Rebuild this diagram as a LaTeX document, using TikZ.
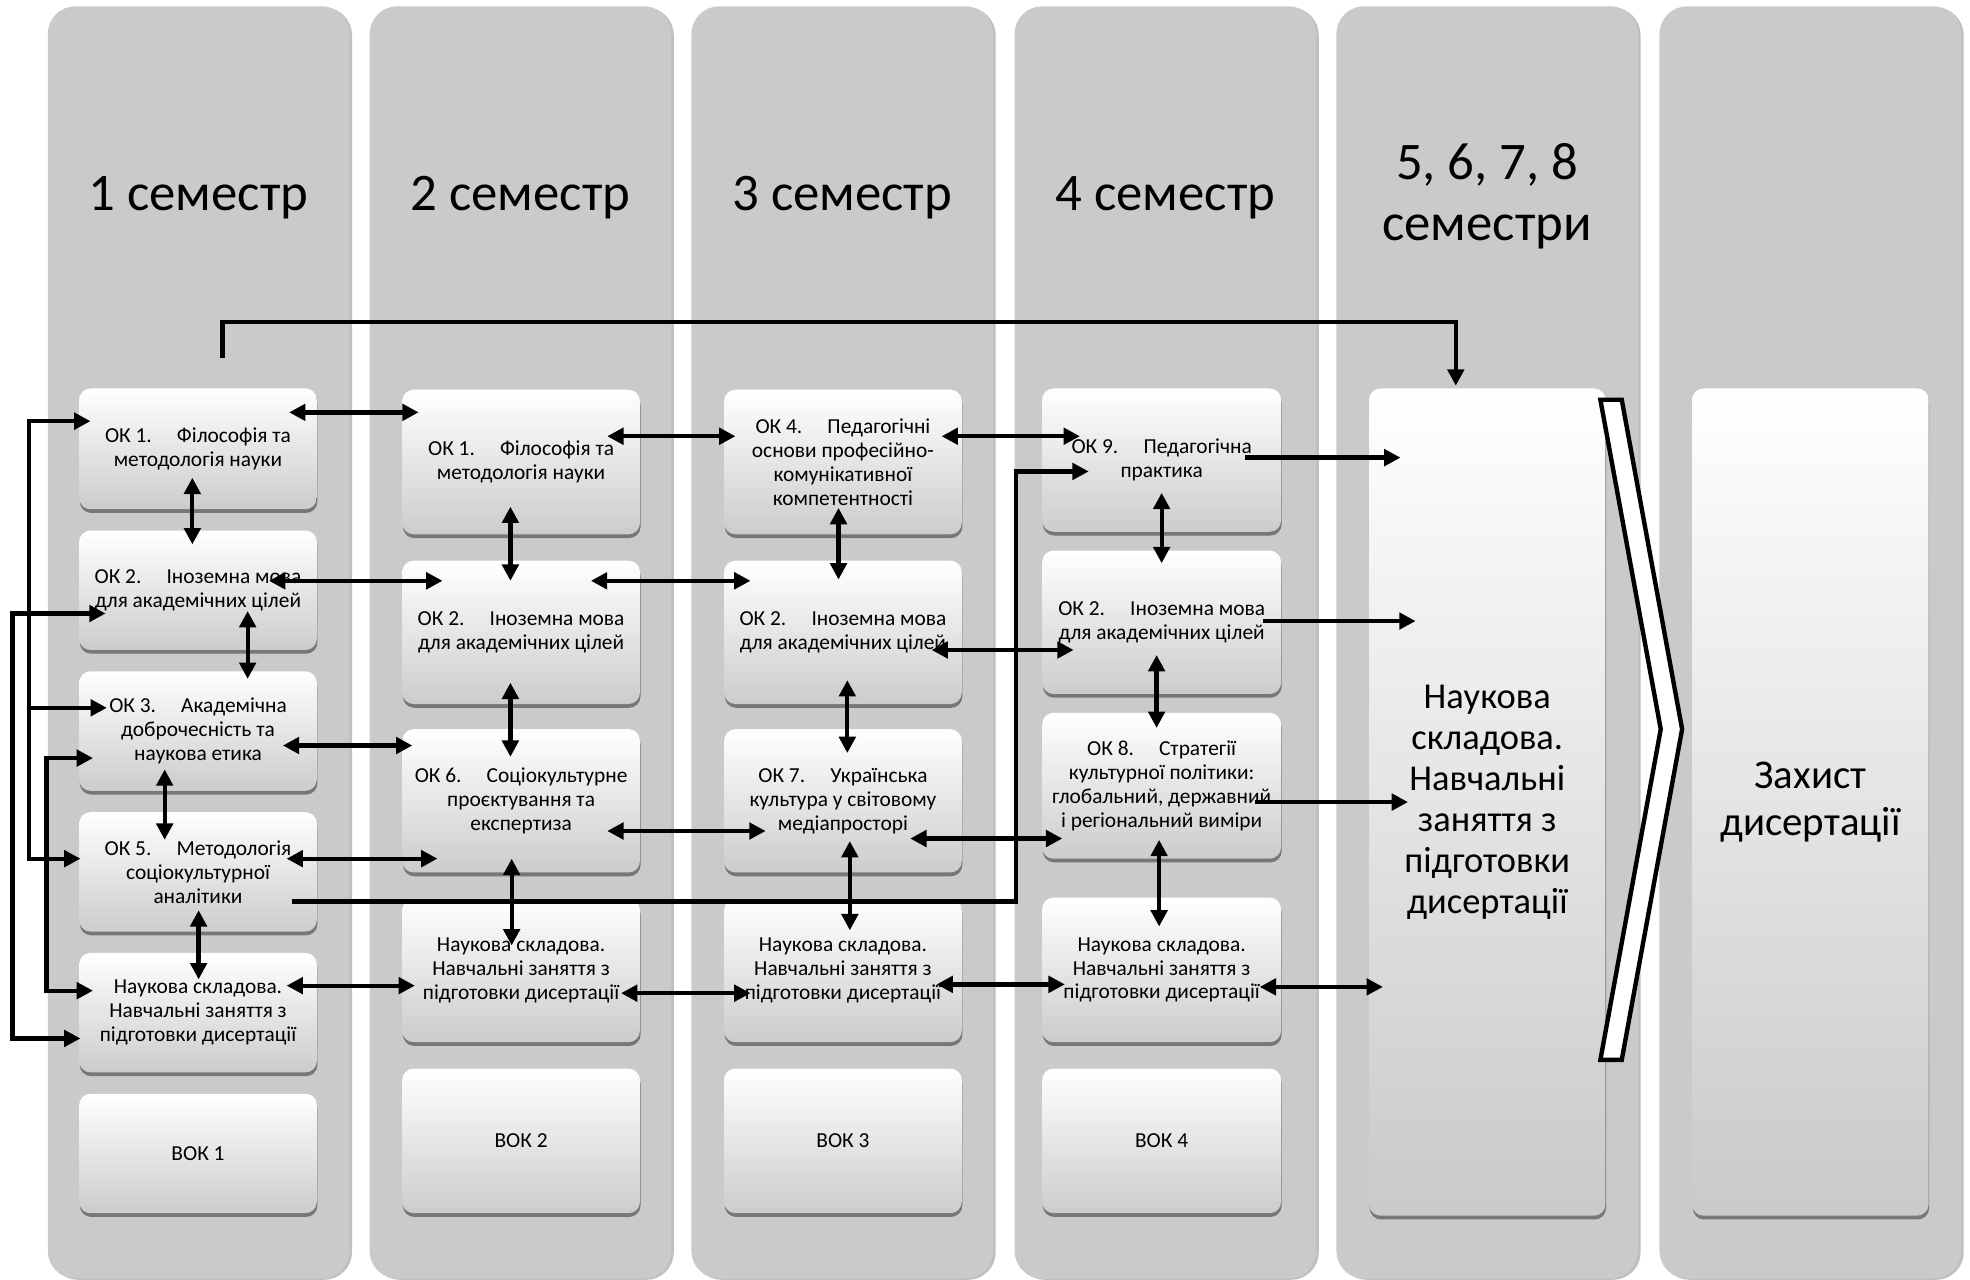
\documentclass[tikz,border=0pt]{standalone}
\usepackage{fontspec}
\setmainfont{Carlito}
\usetikzlibrary{arrows.meta,shadows,calc}
\definecolor{panelgray}{RGB}{202,202,202}
\tikzset{
  x=1pt, y=-1pt,
  panel/.style={fill=panelgray, rounded corners=22pt, draw=none,
    drop shadow={shadow xshift=2pt, shadow yshift=-1pt, opacity=0.25, fill=black}},
  box/.style={rounded corners=9pt, top color=white, bottom color=black!20, draw=none,
    drop shadow={shadow xshift=0.5pt, shadow yshift=-3pt, opacity=0.6, fill=black!75},
    align=center, font=\fontsize{17}{19}\selectfont, inner sep=2pt, text=black},
  bigbox/.style={box, top color=white, middle color=white, bottom color=black!21,
    font=\fontsize{29}{32.6}\selectfont},
  hdr/.style={align=center, font=\fontsize{42}{48}\selectfont, text=black},
  conn/.style={line width=3.4pt, -{Triangle[length=13pt,width=13pt]}},
  dconn/.style={line width=3.4pt, {Triangle[length=13pt,width=13pt]}-{Triangle[length=13pt,width=13pt]}},
}
\newcommand\sembox[6]{%
  \node[box, minimum width={(#4-#2)*1pt}, minimum height={(#5-#3)*1pt}]
    (#1) at ({(#2+#4)/2},{(#3+#5)/2}) {#6};}
\newcommand\biarrow[5]{%
  \coordinate (#1a) at (#2,#3); \coordinate (#1b) at (#4,#5);
  \draw[dconn] (#1a) -- (#1b);}
\newcommand\uniarrow[5]{%
  \coordinate (#1a) at (#2,#3); \coordinate (#1b) at (#4,#5);
  \draw[conn] (#1a) -- (#1b);}
\newcommand\okgap{\hspace{20pt}}
\newcommand\nauk{Наукова складова.\\Навчальні заняття з\\підготовки дисертації}
\newcommand\inoz{ОК 2.\okgap Іноземна мова\\для академічних цілей}
\begin{document}
\begin{tikzpicture}
\useasboundingbox (0,0) rectangle (1567,1018);
\fill[white] (0,0) rectangle (1567,1018);

% panels
\foreach \px in {38,294,550,807,1063,1320}{
  \path[panel] (\px,5) rectangle ({\px+240},1017);
}

% headers
\node[hdr] (h1) at (158,157) {1 семестр};
\node[hdr] (h2) at (414,157) {2 семестр};
\node[hdr] (h3) at (670,157) {3 семестр};
\node[hdr] (h4) at (927,157) {4 семестр};
\node[hdr] (h5) at (1183,156) {5, 6, 7, 8\\семестри};

% column 1
\sembox{b11}{63}{309}{252}{405}{ОК 1.\okgap Філософія та\\методологія науки}
\sembox{b12}{63}{422}{252}{517}{\inoz}
\sembox{b13}{63}{534}{252}{629}{ОК 3.\okgap Академічна\\доброчесність та\\наукова етика}
\sembox{b14}{63}{646}{252}{741}{ОК 5.\okgap Методологія\\соціокультурної\\аналітики}
\sembox{b15}{63}{758}{252}{853}{\nauk}
\sembox{b16}{63}{870}{252}{965}{ВОК 1}

% column 2
\sembox{b21}{320}{310}{509}{425}{ОК 1.\okgap Філософія та\\методологія науки}
\sembox{b22}{320}{446}{509}{560}{\inoz}
\sembox{b23}{320}{580}{509}{694}{ОК 6.\okgap Соціокультурне\\проєктування та\\експертиза}
\sembox{b24}{320}{715}{509}{829}{\nauk}
\sembox{b25}{320}{850}{509}{965}{ВОК 2}

% column 3
\sembox{b31}{576}{310}{765}{425}{ОК 4.\okgap Педагогічні\\основи професійно-\\комунікативної\\компетентності}
\sembox{b32}{576}{446}{765}{560}{\inoz}
\sembox{b33}{576}{580}{765}{694}{ОК 7.\okgap Українська\\культура у світовому\\медіапросторі}
\sembox{b34}{576}{715}{765}{829}{\nauk}
\sembox{b35}{576}{850}{765}{965}{ВОК 3}

% column 4
\sembox{b41}{829}{309}{1019}{423}{ОК 9.\okgap Педагогічна\\практика}
\sembox{b42}{829}{438}{1019}{552}{\inoz}
\sembox{b43}{829}{567}{1019}{683}{ОК 8.\okgap Стратегії\\культурної політики:\\глобальний, державний\\і регіональний виміри}
\sembox{b44}{829}{714}{1019}{829}{\nauk}
\sembox{b45}{829}{850}{1019}{965}{ВОК 4}

% column 5 and 6
\node[bigbox, minimum width=188pt, minimum height=658pt] (b5) at (1183,638)
  {Наукова\\складова.\\Навчальні\\заняття з\\підготовки\\дисертації};
\node[bigbox, minimum width=188pt, minimum height=658pt, font=\fontsize{32.5}{37}\selectfont] (b6) at (1440,638)
  {Захист\\дисертації};

% chevron
\draw[line width=3.5pt, fill=white, line join=miter]
  (1273,318) -- (1290,318) -- (1338,580) -- (1290,843) -- (1273,843) -- (1321,580) -- cycle;

% top bracket
\coordinate (tb1) at (177,285);
\coordinate (tb2) at ($(b5.north)+(-25,-2)$);
\draw[conn, line width=3.6pt] (tb1) -- (177,256) -| (tb2);

% left buses of column 1
\coordinate (la1) at (72,335); \coordinate (la2) at (64,683); \coordinate (la3) at (85,563);
\draw[dconn] (la1) -- (23,335) -- (23,683) -- (la2);
\draw[conn] (23,563) -- (la3);
\coordinate (lb1) at (84,488); \coordinate (lb2) at (64,826);
\draw[dconn] (lb1) -- (10,488) -- (10,826) -- (lb2);
\coordinate (lc1) at (74,603); \coordinate (lc2) at (74,788);
\draw[dconn] (lc1) -- (37,603) -- (37,788) -- (lc2);

% column 1 verticals
\biarrow{v11}{153}{380}{153}{433}
\biarrow{v12}{197}{486}{197}{540}
\biarrow{v13}{131}{612}{131}{668}
\biarrow{v14}{158}{724}{158}{779}

% column 1 <-> column 2
\biarrow{h11}{230}{328}{333}{328}
\biarrow{h12}{214}{462}{352}{462}
\biarrow{h13}{225}{593}{328}{593}
\biarrow{h14}{228}{683}{348}{683}
\biarrow{h15}{228}{784}{330}{784}

% long line from OK5 to OK9
\coordinate (ls) at (232,717); \coordinate (le) at (866,375);
\draw[conn] (ls) -- (808,717) -- (808,375) -- (le);

% column 2 verticals
\biarrow{v21}{406}{403}{406}{462}
\biarrow{v22}{406}{543}{406}{602}
\biarrow{v23}{407}{683}{407}{752}

% column 2 <-> column 3
\biarrow{h21}{483}{347}{585}{347}
\biarrow{h22}{470}{462}{597}{462}
\biarrow{h23}{483}{661}{609}{661}
\biarrow{h24}{494}{790}{597}{790}

% column 3 verticals
\biarrow{v31}{667}{404}{667}{461}
\biarrow{v32}{674}{541}{674}{599}
\biarrow{v33}{676}{669}{676}{740}

% column 3 <-> column 4
\biarrow{h31}{749}{347}{859}{347}
\biarrow{h32}{741}{517}{854}{517}
\biarrow{h33}{724}{667}{845}{667}
\biarrow{h34}{745}{783}{847}{783}

% column 4 verticals
\biarrow{v41}{924}{392}{924}{448}
\biarrow{v42}{920}{521}{920}{579}
\biarrow{v43}{922}{668}{922}{737}

% column 4 -> column 5
\uniarrow{h41}{990}{364}{1114}{364}
\uniarrow{h42}{1005}{494}{1126}{494}
\uniarrow{h43}{998}{638}{1120}{638}
\biarrow{h44}{1002}{785}{1100}{785}
\end{tikzpicture}
\end{document}
